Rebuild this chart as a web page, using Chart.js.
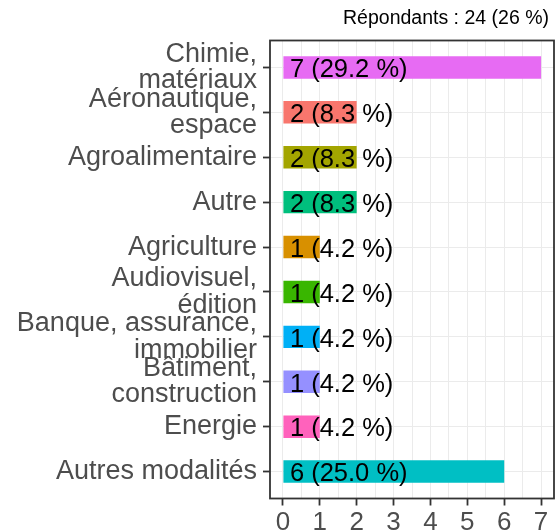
<!DOCTYPE html>
<html>
<head>
<meta charset="utf-8">
<script src="https://cdn.jsdelivr.net/npm/chart.js@4"></script>
<style>
  html, body { margin: 0; padding: 0; background: #fff; }
  #wrap { width: 557px; height: 530px; }
</style>
</head>
<body>
<div id="wrap"><canvas id="chart"></canvas></div>
<script>
// Categories (top to bottom) and counts
const categories = [
  ['Chimie,', 'matériaux'],
  ['Aéronautique,', 'espace'],
  'Agroalimentaire',
  'Autre',
  'Agriculture',
  ['Audiovisuel,', 'édition'],
  ['Banque, assurance,', 'immobilier'],
  ['Bâtiment,', 'construction'],
  'Energie',
  'Autres modalités'
];
const counts = [7, 2, 2, 2, 1, 1, 1, 1, 1, 6];
const percents = ['29.2', '8.3', '8.3', '8.3', '4.2', '4.2', '4.2', '4.2', '4.2', '25.0'];
const barColors = ['#E76BF3', '#F8766D', '#A3A500', '#00BF7D', '#D89000',
                   '#39B600', '#00B0F6', '#9590FF', '#FF62BC', '#00BFC4'];
const xTicks = [0, 1, 2, 3, 4, 5, 6, 7];
const subtitle = 'Répondants : 24 (26 %)';

const FONT = '"Liberation Sans", Arial, sans-serif';

// Draw the value labels, the full panel border and the top-right caption
const extras = {
  id: 'extras',
  afterDatasetsDraw(chart) {
    const ctx = chart.ctx;
    const x0 = chart.scales.x.getPixelForValue(0);
    const meta = chart.getDatasetMeta(0);
    ctx.save();
    ctx.font = '25.5px ' + FONT;
    ctx.fillStyle = '#000';
    ctx.textAlign = 'left';
    ctx.textBaseline = 'alphabetic';
    meta.data.forEach((bar, i) => {
      ctx.fillText(counts[i] + ' (' + percents[i] + ' %)', x0 + 7, bar.y + 9.8);
    });
    ctx.restore();
  },
  afterDraw(chart) {
    const ctx = chart.ctx;
    const a = chart.chartArea;
    ctx.save();
    ctx.strokeStyle = '#333333';
    ctx.lineWidth = 1.8;
    ctx.strokeRect(a.left, a.top, a.right - a.left, a.bottom - a.top);
    ctx.font = '19.5px ' + FONT;
    ctx.fillStyle = '#000';
    ctx.textAlign = 'right';
    ctx.textBaseline = 'alphabetic';
    ctx.fillText(subtitle, a.right - 5, 23.5);
    ctx.restore();
  }
};

const ctx = document.getElementById('chart').getContext('2d');
new Chart(ctx, {
  type: 'bar',
  data: {
    datasets: [{
      data: counts.map((v, i) => ({ x: v, y: i })),
      backgroundColor: barColors,
      borderWidth: 0,
      categoryPercentage: 1,
      barPercentage: 0.5
    }]
  },
  plugins: [extras],
  options: {
    indexAxis: 'y',
    responsive: true,
    maintainAspectRatio: false,
    animation: false,
    layout: { padding: { top: 40.5, right: 3, left: 0, bottom: 0 } },
    scales: {
      x: {
        type: 'linear',
        min: -0.35,
        max: 7.35,
        afterBuildTicks: (scale) => {
          const t = [];
          xTicks.forEach(v => { t.push({ value: v }); if (v < 7) t.push({ value: v + 0.5 }); });
          scale.ticks = t;
        },
        afterFit: (scale) => {
          scale.height = 31.5;
          scale.paddingLeft = 0;
          scale.paddingRight = 0;
        },
        border: { display: false },
        grid: {
          color: '#EBEBEB',
          lineWidth: 1,
          tickLength: 7,
          tickWidth: 1.8,
          tickColor: (c) => (c.tick && c.tick.value % 1 === 0) ? '#333333' : 'rgba(0,0,0,0)'
        },
        ticks: {
          autoSkip: false,
          maxRotation: 0,
          padding: 2,
          color: '#4D4D4D',
          font: { family: FONT, size: 26 },
          callback: (v) => (v % 1 === 0 ? String(v) : '')
        }
      },
      y: {
        type: 'linear',
        reverse: true,
        offset: false,
        min: -0.6,
        max: 9.6,
        afterBuildTicks: (scale) => {
          scale.ticks = categories.map((c, i) => ({ value: i }));
        },
        afterFit: (scale) => {
          scale.width = 270;
          scale.paddingTop = 0;
          scale.paddingBottom = 0;
        },
        border: { display: false },
        grid: {
          offset: false,
          color: '#EBEBEB',
          lineWidth: 1,
          tickLength: 7,
          tickWidth: 1.8,
          tickColor: '#333333'
        },
        ticks: {
          autoSkip: false,
          padding: 6,
          color: '#4D4D4D',
          font: { family: FONT, size: 27, lineHeight: 0.98 },
          callback: (v) => categories[v]
        }
      }
    },
    plugins: {
      legend: { display: false },
      tooltip: { enabled: false },
      title: { display: false }
    }
  }
});
</script>
</body>
</html>
